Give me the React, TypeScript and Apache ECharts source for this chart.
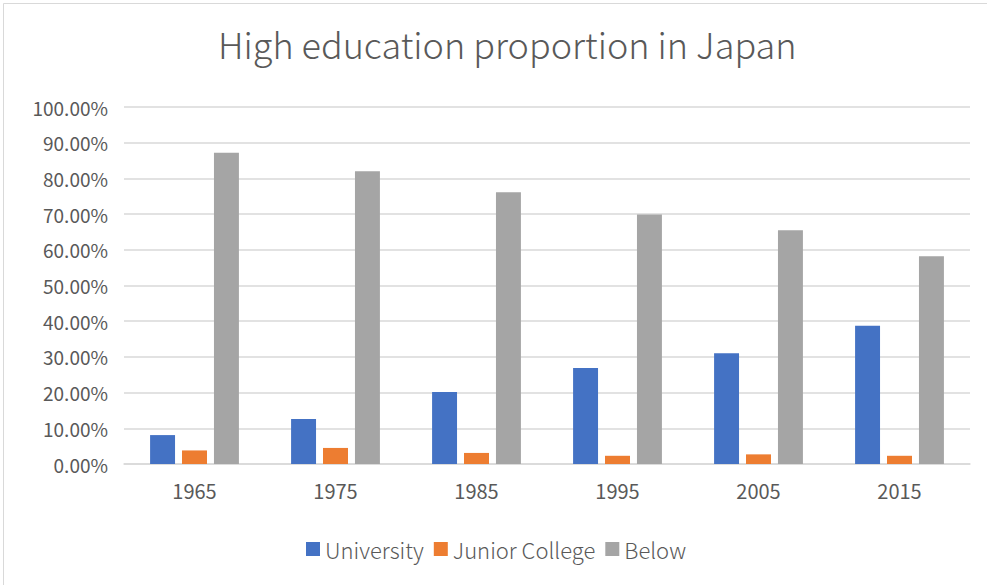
import React, { useEffect, useRef } from "react";
import * as echarts from "echarts";

const categories = ["1965", "1975", "1985", "1995", "2005", "2015"];
const university = [8.1, 12.6, 20.2, 26.9, 31.0, 38.7];
const juniorCollege = [3.8, 4.5, 3.1, 2.3, 2.7, 2.3];
const below = [87.2, 82.0, 76.1, 69.9, 65.5, 58.2];
const seriesNames = ["University", "Junior College", "Below"];
const colors = ["#4472C4", "#ED7D31", "#A5A5A5"];

export default function App() {
  const ref = useRef<HTMLDivElement>(null);
  useEffect(() => {
    if (!ref.current) return;
    const chart = echarts.init(ref.current, undefined, { renderer: "svg" });
    const font = "'Noto Sans CJK SC', 'Noto Sans', sans-serif";
    const data = [university, juniorCollege, below];
    chart.setOption({
      animation: false,
      backgroundColor: "#ffffff",
      color: colors,
      textStyle: { fontFamily: font },
      graphic: [
        {
          type: "rect",
          shape: { x: 3.5, y: 3.5, width: 1000, height: 600 },
          style: { fill: "none", stroke: "#d9d9d9", lineWidth: 1 },
          silent: true,
        },
      ],
      title: {
        text: "High education proportion in Japan",
        left: 213,
        top: 20,
        textStyle: { fontSize: 36, fontWeight: 300, color: "#595959", fontFamily: font },
      },
      grid: { left: 124, right: 17, top: 107, bottom: 121, containLabel: false },
      legend: {
        data: seriesNames,
        bottom: 20,
        left: 301,
        itemWidth: 14,
        itemHeight: 14,
        itemGap: 10,
        icon: "rect",
        textStyle: { fontSize: 22, fontWeight: 300, color: "#595959", fontFamily: font },
      },
      xAxis: {
        type: "category",
        data: categories,
        axisTick: { show: false },
        axisLine: { lineStyle: { color: "#d9d9d9", width: 1.5 } },
        axisLabel: { fontSize: 20, color: "#595959", margin: 16 },
      },
      yAxis: {
        type: "value",
        min: 0,
        max: 100,
        interval: 10,
        axisLabel: {
          fontSize: 19,
          color: "#595959",
          margin: 16,
          formatter: (v: number) => v.toFixed(2) + "%",
        },
        splitLine: { lineStyle: { color: "#d9d9d9", width: 1.5 } },
        axisLine: { show: false },
        axisTick: { show: false },
      },
      series: seriesNames.map((name, i) => ({
        name,
        type: "bar",
        data: data[i],
        barGap: "28%",
        barCategoryGap: "37%",
        itemStyle: { color: colors[i] },
      })),
    });
    return () => chart.dispose();
  }, []);
  return (
    <div
      ref={ref}
      style={{ position: "absolute", left: 0, top: 0, width: 987, height: 585 }}
    />
  );
}
